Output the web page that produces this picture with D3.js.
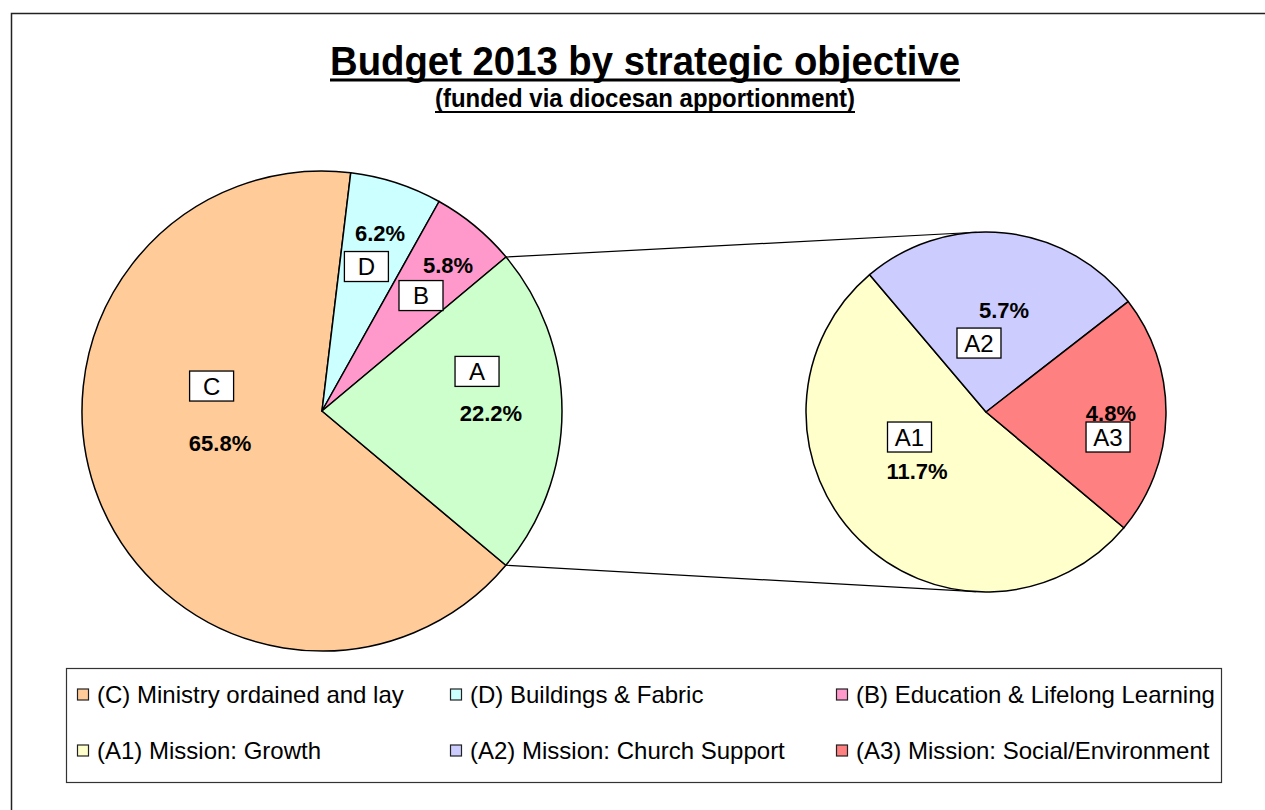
<!DOCTYPE html>
<html>
<head>
<meta charset="utf-8">
<script src="https://cdn.jsdelivr.net/npm/d3@7"></script>
<style>
  html, body { margin: 0; padding: 0; background: #fff; }
  svg { display: block; font-family: "Liberation Sans", Arial, sans-serif; }
</style>
</head>
<body>
<svg id="chart" width="1265" height="810"></svg>
<script>
// Main pie: share of the 2013 budget by strategic objective (percent)
const mainCategories = ["C", "D", "B", "A"];
const mainValues = [65.8, 6.2, 5.8, 22.2];

// Secondary pie: breakdown of objective A (Mission)
const subCategories = ["A1", "A2", "A3"];
const subValues = [11.7, 5.7, 4.8];

// Legend entries, in legend order
const legendKeys = ["C", "D", "B", "A1", "A2", "A3"];
const legendLabels = [
  "(C) Ministry ordained and lay",
  "(D) Buildings & Fabric",
  "(B) Education & Lifelong Learning",
  "(A1) Mission: Growth",
  "(A2) Mission: Church Support",
  "(A3) Mission: Social/Environment"
];

const titleText = "Budget 2013 by strategic objective";
const subtitleText = "(funded via diocesan apportionment)";

// Fill colours per category
const colors = {
  C: "#FFCC99", D: "#CCFFFF", B: "#FF99CC", A: "#CCFFCC",
  A1: "#FFFFCC", A2: "#CCCCFF", A3: "#FF8080"
};

// Label placement, as fractions of the pie radius from the pie centre
const labelLayout = {
  C:  { box: [-0.460, -0.104], pct: [-0.425, 0.133] },
  D:  { box: [0.185, -0.602],  pct: [0.242, -0.742] },
  B:  { box: [0.4125, -0.481], pct: [0.525, -0.608] },
  A:  { box: [0.646, -0.165],  pct: [0.704, 0.008] },
  A1: { box: [-0.425, 0.139],  pct: [-0.383, 0.328] },
  A2: { box: [-0.039, -0.383], pct: [0.100, -0.567] },
  A3: { box: [0.678, 0.139],   pct: [0.694, 0.006] }
};

const svg = d3.select("#chart");
const deg = Math.PI / 180;

// Chart area frame
svg.append("rect")
  .attr("x", 11.5).attr("y", 13.5)
  .attr("width", 1400).attr("height", 1000)
  .attr("fill", "#fff").attr("stroke", "#222").attr("stroke-width", 1.5);

// Title and subtitle, underlined
function underlinedText(text, cx, baseline, size, width, lineGap, lineW) {
  svg.append("text")
    .attr("x", cx).attr("y", baseline)
    .attr("text-anchor", "middle")
    .attr("font-size", size).attr("font-weight", "bold")
    .attr("fill", "#000")
    .attr("textLength", width).attr("lengthAdjust", "spacingAndGlyphs")
    .text(text);
  svg.append("line")
    .attr("x1", cx - width / 2).attr("x2", cx + width / 2)
    .attr("y1", baseline + lineGap).attr("y2", baseline + lineGap)
    .attr("stroke", "#000").attr("stroke-width", lineW);
}
underlinedText(titleText, 645, 75, 41, 630, 5, 3);
underlinedText(subtitleText, 645, 107, 25, 420, 5, 2);

// Geometry
const main = { cx: 322, cy: 411, r: 240 };
const sub = { cx: 986, cy: 412, r: 180 };
const startAngle = 130 * deg;

const mainPie = d3.pie().sort(null).value(d => d.value)
  .startAngle(startAngle).endAngle(startAngle + 2 * Math.PI);
const subPie = d3.pie().sort(null).value(d => d.value)
  .startAngle(startAngle).endAngle(startAngle + 2 * Math.PI);

const mainData = mainPie(mainCategories.map((k, i) => ({ key: k, value: mainValues[i] })));
const subData = subPie(subCategories.map((k, i) => ({ key: k, value: subValues[i] })));

function drawPie(arcs, geom) {
  const arc = d3.arc().innerRadius(0).outerRadius(geom.r);
  const grp = svg.append("g").attr("transform", `translate(${geom.cx},${geom.cy})`);
  grp.selectAll("path").data(arcs).join("path")
    .attr("d", arc)
    .attr("fill", d => colors[d.data.key])
    .attr("stroke", "#000").attr("stroke-width", 1.5)
    .attr("stroke-linejoin", "round");
  return grp;
}

// Connector lines from slice A to the secondary pie
const aSlice = mainData.find(d => d.data.key === "A");
function onCircle(geom, a) {
  return [geom.cx + geom.r * Math.sin(a), geom.cy - geom.r * Math.cos(a)];
}
function tangentPoint(p, geom, upper) {
  const dx = p[0] - geom.cx, dy = p[1] - geom.cy;
  const d = Math.hypot(dx, dy);
  const base = Math.atan2(dy, dx);
  const alpha = Math.acos(geom.r / d);
  const cands = [base + alpha, base - alpha].map(t =>
    [geom.cx + geom.r * Math.cos(t), geom.cy + geom.r * Math.sin(t)]);
  cands.sort((a, b) => a[1] - b[1]);
  return upper ? cands[0] : cands[1];
}
const pTop = onCircle(main, aSlice.startAngle);
const pBot = onCircle(main, aSlice.endAngle);
const tTop = tangentPoint(pTop, sub, true);
const tBot = tangentPoint(pBot, sub, false);
[[pTop, tTop], [pBot, tBot]].forEach(([a, b]) => {
  svg.append("line")
    .attr("x1", a[0]).attr("y1", a[1]).attr("x2", b[0]).attr("y2", b[1])
    .attr("stroke", "#000").attr("stroke-width", 1.2);
});

const mainG = drawPie(mainData, main);
const subG = drawPie(subData, sub);

// Data labels: boxed category name plus bold percentage
function drawLabels(grp, arcs, geom) {
  arcs.forEach(d => {
    const key = d.data.key;
    const lay = labelLayout[key];
    const bx = lay.box[0] * geom.r, by = lay.box[1] * geom.r;
    const bw = 44, bh = 30;
    grp.append("rect")
      .attr("x", bx - bw / 2).attr("y", by - bh / 2)
      .attr("width", bw).attr("height", bh)
      .attr("fill", "#fff").attr("stroke", "#000").attr("stroke-width", 1.3);
    grp.append("text")
      .attr("x", bx).attr("y", by).attr("dy", "0.36em")
      .attr("text-anchor", "middle").attr("font-size", 24)
      .attr("fill", "#000")
      .text(key);
    grp.append("text")
      .attr("x", lay.pct[0] * geom.r).attr("y", lay.pct[1] * geom.r).attr("dy", "0.36em")
      .attr("text-anchor", "middle").attr("font-size", 22).attr("font-weight", "bold")
      .attr("fill", "#000")
      .text(d.data.value.toFixed(1) + "%");
  });
}
drawLabels(mainG, mainData, main);
drawLabels(subG, subData, sub);

// Legend
const legend = { x: 66.5, y: 668.5, w: 1155, h: 114 };
svg.append("rect")
  .attr("x", legend.x).attr("y", legend.y)
  .attr("width", legend.w).attr("height", legend.h)
  .attr("fill", "#fff").attr("stroke", "#333").attr("stroke-width", 1.2);

const colX = [77, 450, 836];
const rowY = [694, 750];
const sw = 11;
legendKeys.forEach((k, i) => {
  const x = colX[i % 3], y = rowY[Math.floor(i / 3)];
  svg.append("rect")
    .attr("x", x + 0.5).attr("y", y - sw / 2 + 0.5)
    .attr("width", sw).attr("height", sw)
    .attr("fill", colors[k]).attr("stroke", "#222").attr("stroke-width", 1.2);
  svg.append("text")
    .attr("x", x + 20).attr("y", y).attr("dy", "0.36em")
    .attr("font-size", 24).attr("fill", "#000")
    .text(legendLabels[i]);
});
</script>
</body>
</html>
